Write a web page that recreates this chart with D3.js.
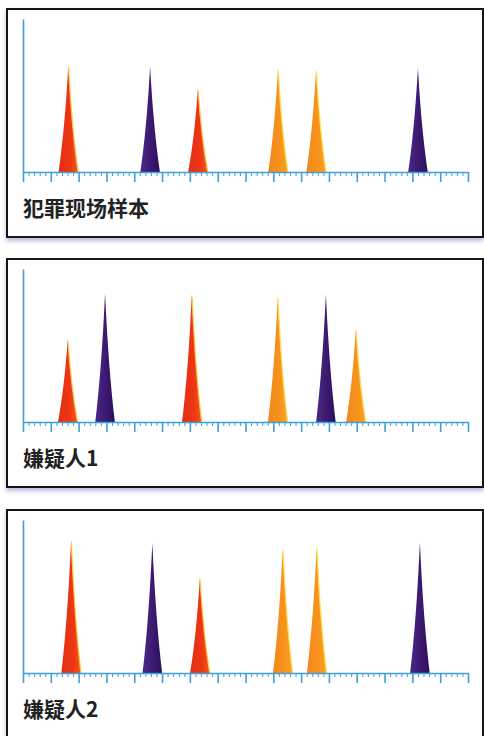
<!DOCTYPE html>
<html>
<head>
<meta charset="utf-8">
<script src="https://cdn.jsdelivr.net/npm/d3@7"></script>
<style>
  body { margin: 0; background: #fff; }
  svg { display: block; }
</style>
</head>
<body>
<div id="chart"></div>
<script>

// ---- data ----
var panelNames = ["犯罪现场样本", "嫌疑人1", "嫌疑人2"];

// peak position on the fragment-size axis (0..160)
var peakPositions = [
  [16.3, 45.7, 62.9, 91.7, 105.4, 142.0],
  [16.1, 29.5, 60.7, 91.6, 108.9, 119.7],
  [17.3, 46.5, 63.6, 93.4, 105.6, 142.7]
];
// peak height (0..100)
var peakHeights = [
  [70.1, 69.0, 54.9, 68.0, 67.5, 68.0],
  [54.2, 84.3, 83.7, 82.4, 83.7, 61.4],
  [86.9, 85.0, 62.5, 81.7, 82.8, 85.4]
];
// dye colour of each peak
var peakDyes = [
  ["red", "purple", "red", "orange", "orange", "purple"],
  ["red", "purple", "red", "orange", "purple", "orange"],
  ["red", "purple", "red", "orange", "orange", "purple"]
];

// ---- layout ----
var W = 484, H = 736;
var panelTops = [9, 259, 510],
    boxX = 7, boxW = 476, boxH = 228;
var plotLeft = 16, plotTop = 10, plotW = 445, plotH = 153;

var svg = d3.select("#chart").append("svg")
    .attr("width", W)
    .attr("height", H);

var defs = svg.append("defs");

var shadow = defs.append("filter")
    .attr("id", "shadow")
    .attr("x", "-5%").attr("y", "-5%")
    .attr("width", "110%").attr("height", "115%");
shadow.append("feDropShadow")
    .attr("dx", 0).attr("dy", 3)
    .attr("stdDeviation", 2)
    .attr("flood-color", "#7d86c4")
    .attr("flood-opacity", 0.55);

var gradStops = {
  red:    [[0, "#e32e17"], [0.6, "#ec3614"], [1, "#f25a18"]],
  orange: [[0, "#f3871e"], [0.6, "#f7931d"], [1, "#f9a323"]],
  purple: [[0, "#4a2a87"], [0.5, "#3c1a71"], [1, "#2d0f5d"]]
};
var edgeColor = { red: "#fbc640", orange: "#fde04a", purple: null };

Object.keys(gradStops).forEach(function(k) {
  var g = defs.append("linearGradient")
      .attr("id", "grad-" + k)
      .attr("x1", "0%").attr("x2", "100%")
      .attr("y1", "0%").attr("y2", "0%");
  gradStops[k].forEach(function(s) {
    g.append("stop").attr("offset", s[0]).attr("stop-color", s[1]);
  });
});

var x = d3.scaleLinear().domain([0, 160]).range([0, plotW]);
var y = d3.scaleLinear().domain([0, 100]).range([plotH, 0]);

var majorTicks = x.ticks(16);
var minorTicks = d3.range(0, 161, 2).filter(function(v) { return v % 10 !== 0; });

var axisColor = "#3f9fd9";
var halfBase = 9.8;

function peakPath(pos, h) {
  var cx = x(pos), b = y(0), t = y(h), w = halfBase, hh = b - t;
  var p = d3.path();
  p.moveTo(cx - w, b);
  p.quadraticCurveTo(cx - w * 0.36, b - hh * 0.4, cx, t);
  p.quadraticCurveTo(cx + w * 0.36, b - hh * 0.4, cx + w, b);
  p.closePath();
  return p.toString();
}

function edgePath(pos, h) {
  var cx = x(pos), b = y(0), t = y(h), w = halfBase, hh = b - t;
  var p = d3.path();
  p.moveTo(cx + 0.3, t + 3);
  p.quadraticCurveTo(cx + w * 0.36, b - hh * 0.4, cx + w, b);
  return p.toString();
}

panelNames.forEach(function(name, i) {

  var panel = svg.append("g")
      .attr("transform", "translate(" + boxX + "," + panelTops[i] + ")");

  panel.append("rect")
      .attr("width", boxW)
      .attr("height", i === 2 ? 260 : boxH)
      .attr("fill", "#fff")
      .attr("stroke", "#161616")
      .attr("stroke-width", 2)
      .attr("filter", "url(#shadow)");

  var plot = panel.append("g")
      .attr("transform", "translate(" + plotLeft + "," + plotTop + ")");

  var peaks = peakPositions[i].map(function(p, j) {
    return { pos: p, h: peakHeights[i][j], dye: peakDyes[i][j] };
  });

  // peaks
  plot.selectAll("path.peak")
      .data(peaks)
    .enter().append("path")
      .attr("class", "peak")
      .attr("d", function(d) { return peakPath(d.pos, d.h); })
      .attr("fill", function(d) { return "url(#grad-" + d.dye + ")"; });

  // thin yellow rim on the right side of the red / orange peaks
  plot.selectAll("path.rim")
      .data(peaks.filter(function(d) { return edgeColor[d.dye]; }))
    .enter().append("path")
      .attr("class", "rim")
      .attr("d", function(d) { return edgePath(d.pos, d.h); })
      .attr("fill", "none")
      .attr("stroke", function(d) { return edgeColor[d.dye]; })
      .attr("stroke-width", 1.3)
      .attr("stroke-opacity", 0.9);

  // minor ticks
  plot.append("g")
      .attr("transform", "translate(0," + plotH + ")")
      .call(d3.axisBottom(x).tickValues(minorTicks).tickSize(4).tickSizeOuter(0).tickFormat(""))
      .call(function(g) {
        g.select(".domain").remove();
        g.selectAll("line").attr("stroke", axisColor).attr("stroke-width", 1);
      });

  // major ticks + baseline
  plot.append("g")
      .attr("transform", "translate(0," + plotH + ")")
      .call(d3.axisBottom(x).tickValues(majorTicks).tickSize(10).tickSizeOuter(0).tickFormat(""))
      .call(function(g) {
        g.select(".domain").attr("stroke", axisColor).attr("stroke-width", 1.6);
        g.selectAll("line").attr("stroke", axisColor).attr("stroke-width", 1.6);
      });

  // y axis line
  plot.append("g")
      .call(d3.axisLeft(y).tickValues([]).tickSizeOuter(0))
      .call(function(g) {
        g.select(".domain").attr("stroke", axisColor).attr("stroke-width", 1.6);
      });

  panel.append("text")
      .attr("x", plotLeft)
      .attr("y", plotTop + plotH + 44)
      .attr("font-family", "'Noto Sans CJK SC', 'Noto Sans', sans-serif")
      .attr("font-weight", "bold")
      .attr("font-size", 21)
      .attr("fill", "#222")
      .text(name);
});

</script>
</body>
</html>
